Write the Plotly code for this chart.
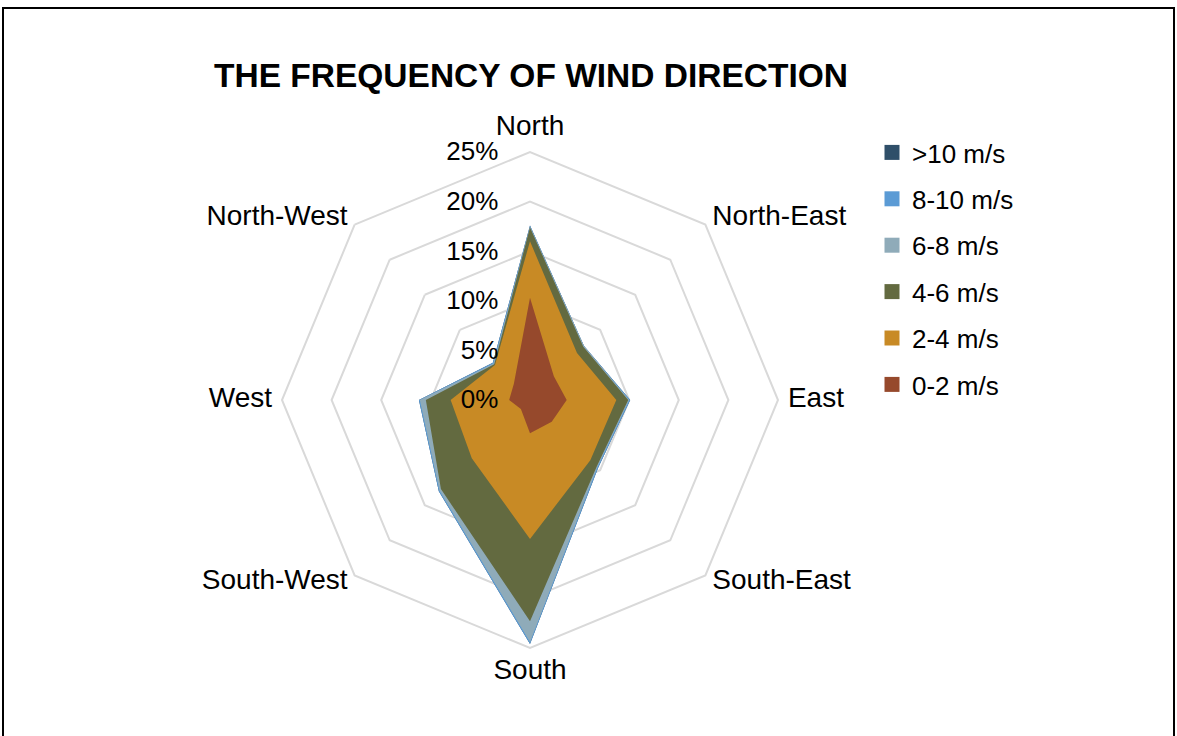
import plotly.graph_objects as go

categories = ["North", "North-East", "East", "South-East", "South", "South-West", "West", "North-West"]
series_names = [">10 m/s", "8-10 m/s", "6-8 m/s", "4-6 m/s", "2-4 m/s", "0-2 m/s"]
gt10 = [17.6, 7.7, 10.1, 9.7, 24.6, 13.0, 11.2, 5.3]
s8_10 = [17.6, 7.7, 10.1, 9.7, 24.6, 13.0, 11.2, 5.3]
s6_8 = [17.5, 7.7, 10.0, 9.6, 24.4, 12.9, 11.1, 5.2]
s4_6 = [17.4, 7.6, 9.9, 9.5, 22.3, 12.7, 10.5, 5.1]
s2_4 = [16.0, 6.7, 8.7, 8.6, 14.0, 8.3, 8.0, 5.0]
s0_2 = [10.3, 3.4, 3.7, 3.1, 3.35, 1.3, 2.1, 2.3]
colors = ["#2F4F69", "#5B9BD5", "#8FABB9", "#636A40", "#C88A25", "#96492C"]
radial_ticks = [0, 5, 10, 15, 20, 25]
radial_labels = ["0%", "5%", "10%", "15%", "20%", "25%"]
label_positions = ["top center", "middle right", "middle right", "middle right",
                   "bottom center", "middle left", "middle left", "middle left"]

FONT = "Liberation Sans, Arial, sans-serif"
W, H = 1177, 736
AXIS_MAX = 25          # outer grid ring
RANGE_MAX = 26.5       # a little room beyond the outer ring for category labels
LABEL_R = 26.0
cx, cy = 530, 400
R = 248 * RANGE_MAX / AXIS_MAX

fig = go.Figure()
for name, vals, col in zip(series_names, [gt10, s8_10, s6_8, s4_6, s2_4, s0_2], colors):
    fig.add_trace(go.Scatterpolar(
        r=vals + vals[:1], theta=categories + categories[:1],
        name=name, mode="lines", fill="toself", fillcolor=col,
        line=dict(color=col, width=0), showlegend=False, hoverinfo="name+r+theta",
    ))

# category labels placed just outside the outer ring
fig.add_trace(go.Scatterpolar(
    r=[LABEL_R] * len(categories), theta=categories, mode="text", text=categories,
    textposition=label_positions, textfont=dict(size=28, family=FONT, color="#000000"),
    showlegend=False, hoverinfo="skip", cliponaxis=False,
))

# legend entries (square swatches)
for name, col in zip(series_names, colors):
    fig.add_trace(go.Scatterpolar(
        r=[None], theta=[None], name=name, mode="markers",
        marker=dict(symbol="square", size=15, color=col), showlegend=True,
        legendgroup=name,
    ))

fig.update_layout(
    width=W, height=H,
    margin=dict(l=0, r=0, t=0, b=0),
    paper_bgcolor="white", plot_bgcolor="white",
    font=dict(family=FONT, size=26, color="#000000"),
    title=dict(text="<b>THE FREQUENCY OF WIND DIRECTION</b>", x=531 / W, xanchor="center",
               y=1 - 75 / H, yanchor="middle", font=dict(size=33.5, family=FONT, color="#000000")),
    polar=dict(
        domain=dict(x=[(cx - R) / W, (cx + R) / W], y=[(H - cy - R) / H, (H - cy + R) / H]),
        gridshape="linear",
        bgcolor="rgba(0,0,0,0)",
        angularaxis=dict(rotation=90, direction="clockwise", showgrid=False, showline=False,
                         ticks="", showticklabels=False,
                         categoryorder="array", categoryarray=categories),
        radialaxis=dict(range=[0, RANGE_MAX], tickvals=radial_ticks, ticktext=radial_labels,
                        angle=90, tickangle=90, showline=False, ticks="outside", ticklen=22,
                        tickcolor="rgba(0,0,0,0)", side="counterclockwise",
                        gridcolor="#D9D9D9", gridwidth=1.5,
                        tickfont=dict(size=26, family=FONT, color="#000000")),
    ),
    legend=dict(x=872 / W, y=1 - 129 / H, xanchor="left", yanchor="top",
                font=dict(size=26, family=FONT), tracegroupgap=9.6, itemwidth=30,
                bgcolor="rgba(0,0,0,0)"),
    shapes=[dict(type="rect", xref="paper", yref="paper", x0=3 / W, x1=1174 / W, y0=-0.1, y1=1 - 8 / H,
                 line=dict(color="black", width=2), layer="above")],
)

fig.write_html("out.html")
